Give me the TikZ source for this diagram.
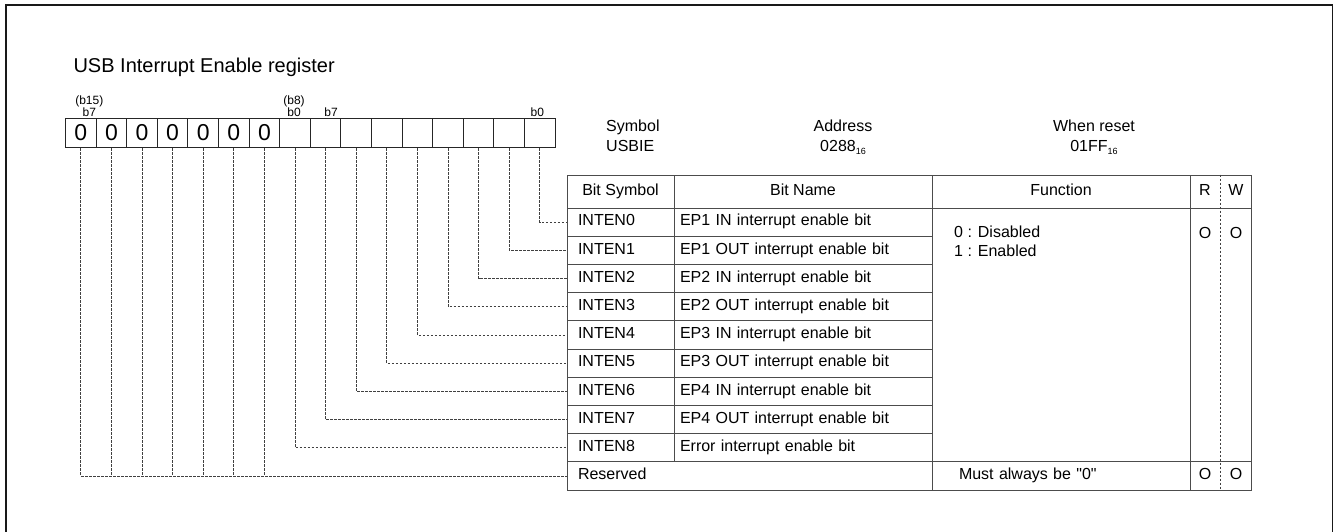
\documentclass[tikz,border=0pt]{standalone}
\usepackage{fontspec}
\setmainfont{Liberation Sans}
\usetikzlibrary{matrix,positioning}

\begin{document}
\begin{tikzpicture}[x=1pt, y=-1pt,
    tfont/.style={font=\fontsize{16}{19}\selectfont},
    tlbl/.style={tfont, inner sep=0pt, execute at begin node={\strut}},
    tcell/.style={draw=black!70, line width=1pt, inner sep=0pt, tfont,
                  execute at begin node={\strut}},
    hdrcell/.style={tcell, minimum height=33pt, align=center},
    symcell/.style={tcell, minimum height=28.2pt, inner xsep=11pt,
                    text width=85pt, align=left},
    namecell/.style={tcell, minimum height=28.2pt, inner xsep=6pt,
                     text width=246pt, align=left},
    bitlbl/.style={font=\fontsize{12}{12}\selectfont, inner sep=0pt, align=center},
    dashlink/.style={draw=black!75, line width=0.8pt, dash pattern=on 2.5pt off 1.5pt}]
    \useasboundingbox (0,0) rectangle (1335,531);
    \draw[line width=1.3pt, black!90] (6,540) -- (6,5) -- (1332.5,5) -- (1332.5,540);

    \node[anchor=base west, font=\fontsize{20}{24}\selectfont] (title) at (70,72)
      {USB Interrupt Enable register};

    % register bits b15 ... b0
    \matrix (reg) [matrix of nodes,
            nodes in empty cells,
            ampersand replacement=\&,
            nodes={draw=black!85, line width=1pt, minimum width=30.6pt,
                   minimum height=29.7pt, inner sep=0pt, anchor=center,
                   font=\fontsize{23}{23}\selectfont,
                   execute at begin node={\vphantom{0}}},
            column sep=-1pt, anchor=north west] at (61.5,114) {
      0 \& 0 \& 0 \& 0 \& 0 \& 0 \& 0 \& \& \& \& \& \& \& \& \& \\
    };
    \node[bitlbl, above=1pt of reg-1-1, xshift=8.5pt] (b15lbl) {(b15)\\b7};
    \node[bitlbl, above=1pt of reg-1-8, xshift=-1pt] (b8lbl) {(b8)\\b0};
    \node[bitlbl, above=1pt of reg-1-9, xshift=5.5pt] (b7lbl) {b7};
    \node[bitlbl, above=1pt of reg-1-16, xshift=-2.5pt] (b0lbl) {b0};

    % symbol, address, reset value
    \node[tlbl, font=\fontsize{16}{20}\selectfont, anchor=north west, align=left]
      (symlbl) at (606,120) {Symbol\\USBIE};
    \node[tlbl, font=\fontsize{16}{20}\selectfont, anchor=north, align=center]
      (addrlbl) at (843,120) {Address\\0288\raisebox{-3pt}{\fontsize{9}{9}\selectfont 16}};
    \node[tlbl, font=\fontsize{16}{20}\selectfont, anchor=north, align=center]
      (rstlbl) at (1094,120) {When reset\\01FF\raisebox{-3pt}{\fontsize{9}{9}\selectfont 16}};

    % table
    \node[hdrcell, minimum width=107pt] (hsym) at (620.5,191.5) {Bit Symbol};
    \node[hdrcell, minimum width=258pt] (hname) at (803,191.5) {Bit Name};
    \node[hdrcell, minimum width=258pt] (hfunc) at (1061,191.5) {Function};
    \node[hdrcell, minimum width=61pt] (hrw) at (1220.5,191.5) {};
    \node[tlbl] (hr) at (1205,191.5) {R};
    \node[tlbl] (hw) at (1236,191.5) {W};

    \node[symcell] (inten0) at (620.5,222.1) {INTEN0};
    \node[namecell] (name0) at (803,222.1) {EP1 IN interrupt enable bit};
    \node[symcell] (inten1) at (620.5,250.3) {INTEN1};
    \node[namecell] (name1) at (803,250.3) {EP1 OUT interrupt enable bit};
    \node[symcell] (inten2) at (620.5,278.5) {INTEN2};
    \node[namecell] (name2) at (803,278.5) {EP2 IN interrupt enable bit};
    \node[symcell] (inten3) at (620.5,306.7) {INTEN3};
    \node[namecell] (name3) at (803,306.7) {EP2 OUT interrupt enable bit};
    \node[symcell] (inten4) at (620.5,334.9) {INTEN4};
    \node[namecell] (name4) at (803,334.9) {EP3 IN interrupt enable bit};
    \node[symcell] (inten5) at (620.5,363.1) {INTEN5};
    \node[namecell] (name5) at (803,363.1) {EP3 OUT interrupt enable bit};
    \node[symcell] (inten6) at (620.5,391.3) {INTEN6};
    \node[namecell] (name6) at (803,391.3) {EP4 IN interrupt enable bit};
    \node[symcell] (inten7) at (620.5,419.5) {INTEN7};
    \node[namecell] (name7) at (803,419.5) {EP4 OUT interrupt enable bit};
    \node[symcell] (inten8) at (620.5,447.7) {INTEN8};
    \node[namecell] (name8) at (803,447.7) {Error interrupt enable bit};

    \node[tcell, minimum width=258pt, minimum height=253.8pt] (func) at (1061,334.9) {};
    \node[tcell, minimum width=61pt, minimum height=253.8pt] (rw) at (1220.5,334.9) {};
    \node[tlbl, anchor=north west, align=left] (funcval) at (954,225.5)
      {0 : Disabled\\1 : Enabled};
    \node[tlbl] (rval) at (1205,235) {O};
    \node[tlbl] (wval) at (1236,235) {O};

    \node[tcell, minimum height=28.2pt, inner xsep=11pt, text width=343pt,
          align=left] (rsv) at (749.5,475.9) {Reserved};
    \node[tcell, minimum height=28.2pt, inner xsep=27pt, text width=204pt,
          align=left] (rsvfunc) at (1061,475.9) {Must always be \textquotedbl 0\textquotedbl};
    \node[tcell, minimum width=61pt, minimum height=28.2pt] (rsvrw) at (1220.5,475.9) {};
    \node[tlbl] (rsvr) at (1205,475.9) {O};
    \node[tlbl] (rsvw) at (1236,475.9) {O};
    \draw[dashlink] (hrw.north) -- (rsvrw.south);

    % bit to row links
    \draw[dashlink] (reg-1-16.south) |- (inten0.west);
    \draw[dashlink] (reg-1-15.south) |- (inten1.west);
    \draw[dashlink] (reg-1-14.south) |- (inten2.west);
    \draw[dashlink] (reg-1-13.south) |- (inten3.west);
    \draw[dashlink] (reg-1-12.south) |- (inten4.west);
    \draw[dashlink] (reg-1-11.south) |- (inten5.west);
    \draw[dashlink] (reg-1-10.south) |- (inten6.west);
    \draw[dashlink] (reg-1-9.south) |- (inten7.west);
    \draw[dashlink] (reg-1-8.south) |- (inten8.west);
    \draw[dashlink] (reg-1-1.south) |- (rsv.west);
    \draw[dashlink] (reg-1-2.south) -- (reg-1-2.south |- rsv.west);
    \draw[dashlink] (reg-1-3.south) -- (reg-1-3.south |- rsv.west);
    \draw[dashlink] (reg-1-4.south) -- (reg-1-4.south |- rsv.west);
    \draw[dashlink] (reg-1-5.south) -- (reg-1-5.south |- rsv.west);
    \draw[dashlink] (reg-1-6.south) -- (reg-1-6.south |- rsv.west);
    \draw[dashlink] (reg-1-7.south) -- (reg-1-7.south |- rsv.west);
\end{tikzpicture}
\end{document}
